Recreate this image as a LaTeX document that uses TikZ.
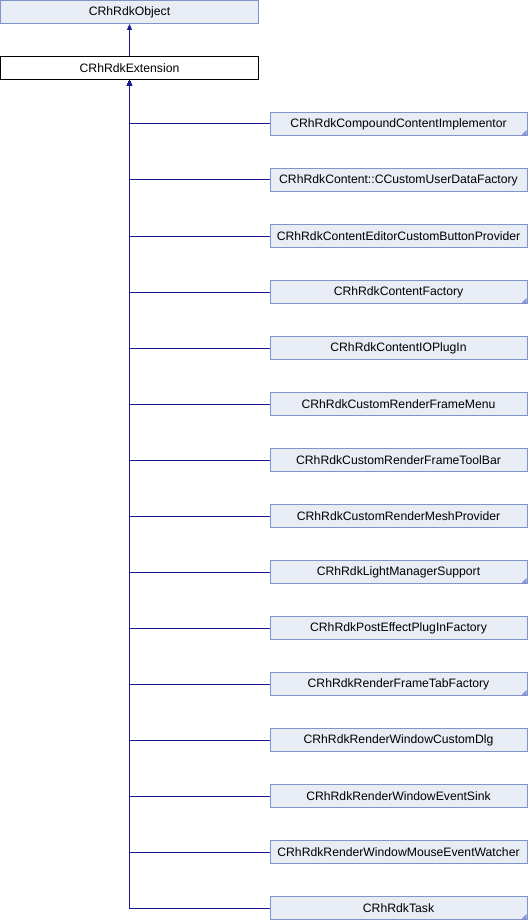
\documentclass[tikz,border=0pt]{standalone}
\usepackage{fontspec}
\setmainfont{Liberation Sans}
\usetikzlibrary{arrows.meta}
\definecolor{boxfill}{RGB}{232,236,245}
\definecolor{boxdraw}{RGB}{128,149,204}
\definecolor{edgecol}{RGB}{25,25,140}
\tikzset{
  cls/.style={draw=boxdraw, fill=boxfill, line width=1pt, minimum width=257pt, minimum height=23pt, inner sep=0pt, font=\fontsize{12.2}{14}\selectfont},
  clsmain/.style={cls, draw=black, fill=white, minimum width=258pt},
  clstop/.style={cls, minimum width=258pt},
  corner/.style={path picture={\fill[boxdraw] ([xshift=-0.5pt,yshift=0.5pt]path picture bounding box.south east) -- ++(-5pt,0) -- ++(5pt,5pt) -- cycle;}},
  inh/.style={draw=edgecol, line width=1pt, -{Triangle[width=5pt,length=6pt]}}
}
\begin{document}
\begin{tikzpicture}[x=1pt,y=-1pt]
\useasboundingbox (0,0) rectangle (528,920);
\node[clstop] (obj) at (129.5,12) {CRhRdkObject};
\node[clsmain] (ext) at (129.5,68) {CRhRdkExtension};
\draw[inh] (ext.north) -- (obj.south);
\node[cls,corner] (c1) at (398.5,124) {CRhRdkCompoundContentImplementor};
\node[cls] (c2) at (398.5,180) {CRhRdkContent::CCustomUserDataFactory};
\node[cls] (c3) at (398.5,236) {CRhRdkContentEditorCustomButtonProvider};
\node[cls,corner] (c4) at (398.5,292) {CRhRdkContentFactory};
\node[cls] (c5) at (398.5,348) {CRhRdkContentIOPlugIn};
\node[cls] (c6) at (398.5,404) {CRhRdkCustomRenderFrameMenu};
\node[cls] (c7) at (398.5,460) {CRhRdkCustomRenderFrameToolBar};
\node[cls] (c8) at (398.5,516) {CRhRdkCustomRenderMeshProvider};
\node[cls,corner] (c9) at (398.5,572) {CRhRdkLightManagerSupport};
\node[cls] (c10) at (398.5,628) {CRhRdkPostEffectPlugInFactory};
\node[cls,corner] (c11) at (398.5,684) {CRhRdkRenderFrameTabFactory};
\node[cls] (c12) at (398.5,740) {CRhRdkRenderWindowCustomDlg};
\node[cls] (c13) at (398.5,796) {CRhRdkRenderWindowEventSink};
\node[cls] (c14) at (398.5,852) {CRhRdkRenderWindowMouseEventWatcher};
\node[cls,corner] (c15) at (398.5,908) {CRhRdkTask};
\foreach \i in {1,...,15} {
  \draw[inh] (c\i.west) -| (ext.south);
}
\end{tikzpicture}
\end{document}
